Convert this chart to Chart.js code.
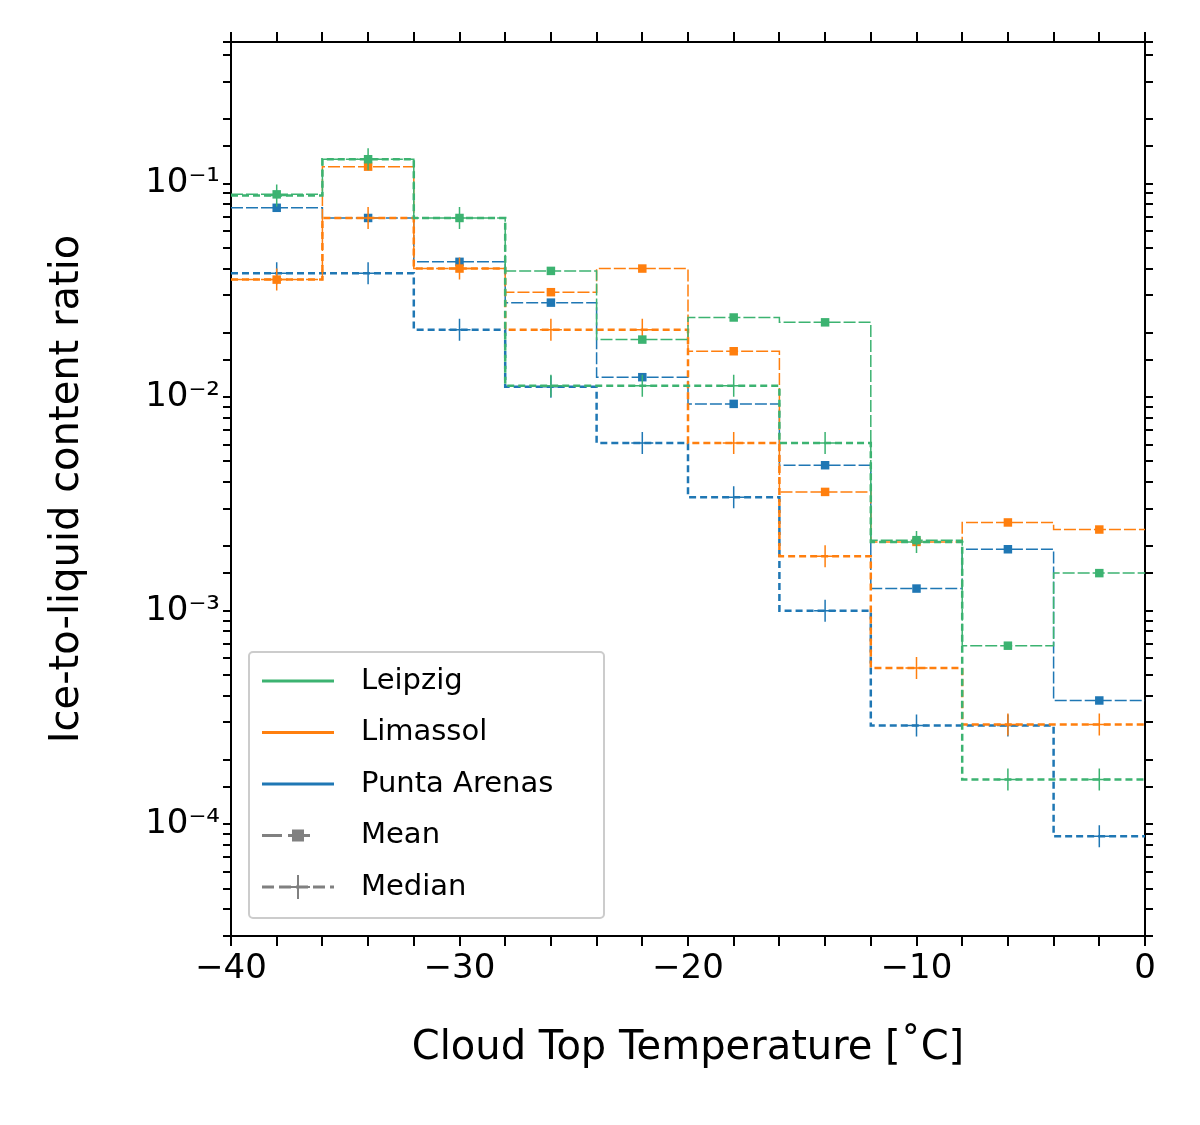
<!DOCTYPE html>
<html><head><meta charset="utf-8">
<script src="https://cdn.jsdelivr.net/npm/chart.js@4/dist/chart.umd.min.js"></script>
<style>body{margin:0;background:#fff}#wrap{width:1200px;height:1125px}</style>
</head><body><div id="wrap"><canvas id="c"></canvas></div>
<script>
// bin edges, -40 .. 0 step 4
var binEdges = [-40, -36, -32, -28, -24, -20, -16, -12, -8, -4];
var binCenters = [-38, -34, -30, -26, -22, -18, -14, -10, -6, -2];
var leipzigMean = [0.089, 0.13, 0.069, 0.039, 0.0186, 0.0236, 0.0224, 0.00214, 0.000686, 0.0015];
var leipzigMedian = [0.088, 0.13, 0.069, 0.0113, 0.0113, 0.0113, 0.0061, 0.0021, 0.000162, 0.000162];
var limassolMean = [0.0355, 0.12, 0.040, 0.031, 0.040, 0.0164, 0.0036, 0.0021, 0.00259, 0.0024];
var limassolMedian = [0.0355, 0.069, 0.040, 0.0207, 0.0207, 0.0061, 0.0018, 0.00054, 0.000293, 0.000293];
var puntaMean = [0.077, 0.069, 0.043, 0.0277, 0.0124, 0.0093, 0.0048, 0.00127, 0.00194, 0.00038];
var puntaMedian = [0.038, 0.038, 0.0207, 0.0112, 0.0061, 0.0034, 0.001, 0.00029, 0.00029, 0.000088];
var yTickLabels = {'-1': '10⁻¹', '-2': '10⁻²', '-3': '10⁻³', '-4': '10⁻⁴'};

var green = '#3cb371', orange = '#ff7f0e', blue = '#1f77b4';

function steps(vals) {
    var pts = binEdges.map(function (x, i) { return {x: x, y: vals[i]}; });
    pts.push({x: 0, y: vals[vals.length - 1]});
    return pts;
}
function marks(vals) {
    return binCenters.map(function (x, i) { return {x: x, y: vals[i]}; });
}
function stepSet(vals, color, median) {
    return {data: steps(vals), borderColor: color, borderWidth: median ? 2.5 : 1.5,
        borderDash: median ? [7, 4] : [12, 3], stepped: 'before', pointRadius: 0, fill: false};
}
function markSet(vals, color, median) {
    return {data: marks(vals), showLine: false, borderColor: color, backgroundColor: color,
        pointStyle: median ? 'cross' : 'rect', pointRadius: median ? 11 : 6, borderWidth: median ? 1.5 : 0};
}

var series = [[leipzigMean, leipzigMedian, green], [limassolMean, limassolMedian, orange], [puntaMean, puntaMedian, blue]];
var datasets = [];
series.forEach(function (s) {
    datasets.push(stepSet(s[1], s[2], true), markSet(s[1], s[2], true));
    datasets.push(stepSet(s[0], s[2], false), markSet(s[0], s[2], false));
});

var font = {family: 'DejaVu Sans', size: 34};

var legendPlugin = {
    id: 'boxLegend',
    afterDraw: function (chart) {
        var c = chart.ctx;
        var x0 = 249, y0 = 652, w = 355, h = 266;
        c.save();
        c.fillStyle = 'rgba(255,255,255,0.8)';
        c.strokeStyle = '#ccc';
        c.lineWidth = 2;
        c.beginPath();
        c.roundRect(x0, y0, w, h, 4);
        c.fill();
        c.stroke();
        var items = [['Leipzig', green, 'solid'], ['Limassol', orange, 'solid'], ['Punta Arenas', blue, 'solid'],
            ['Mean', 'gray', 'mean'], ['Median', 'gray', 'median']];
        c.font = '29px DejaVu Sans';
        c.textBaseline = 'middle';
        items.forEach(function (it, i) {
            var y = 681 + i * 51.5;
            c.strokeStyle = it[1];
            c.fillStyle = it[1];
            c.lineWidth = 3;
            c.beginPath();
            if (it[2] === 'solid') {
                c.moveTo(262, y); c.lineTo(334, y); c.stroke();
            } else {
                c.setLineDash(it[2] === 'mean' ? [20, 6, 8, 6, 8, 40] : [12, 5]);
                c.moveTo(262, y); c.lineTo(334, y); c.stroke();
                c.setLineDash([]);
                if (it[2] === 'mean') {
                    c.fillRect(292, y - 6, 12, 12);
                } else {
                    c.lineWidth = 2;
                    c.beginPath();
                    c.moveTo(298, y - 12); c.lineTo(298, y + 12);
                    c.moveTo(286, y); c.lineTo(310, y);
                    c.stroke();
                }
            }
            c.fillStyle = '#000';
            c.fillText(it[0], 361, y);
        });
        c.restore();
    }
};

function fix(size) { return function (s) { if (s.isHorizontal()) s.height = size; else s.width = size; }; }
function decades(v) {
    var l = Math.log10(v);
    return Math.abs(l - Math.round(l)) < 1e-6 && yTickLabels[Math.round(l)] ? yTickLabels[Math.round(l)] : '';
}
var border = {display: true, color: '#000', width: 2};

new Chart(document.getElementById('c').getContext('2d'), {
    type: 'line',
    data: {datasets: datasets},
    plugins: [legendPlugin],
    options: {
        responsive: true, maintainAspectRatio: false, animation: false, devicePixelRatio: 1,
        layout: {padding: {left: 40, right: 55, top: 42, bottom: 48}},
        plugins: {legend: {display: false}, tooltip: {enabled: false}},
        scales: {
            x: {type: 'linear', position: 'bottom', min: -40, max: 0, border: border,
                ticks: {stepSize: 2, color: '#000', font: font, maxRotation: 0, autoSkip: false,
                    callback: function (v) { return v % 10 === 0 ? (v < 0 ? '−' + (-v) : String(v)) : ''; }},
                grid: {display: true, drawOnChartArea: false, tickLength: 10, color: '#000', lineWidth: 2},
                title: {display: true, text: 'Cloud Top Temperature [˚C]', color: '#000', font: {family: 'DejaVu Sans', size: 40}, padding: {top: 8}},
                afterFit: fix(141)},
            x2: {type: 'linear', position: 'top', min: -40, max: 0, border: border,
                ticks: {stepSize: 2, display: false},
                grid: {drawOnChartArea: false, tickLength: 10, color: '#000', lineWidth: 2},
                afterFit: fix(0)},
            y: {type: 'logarithmic', position: 'left', min: 3e-5, max: 0.46, border: border,
                ticks: {color: '#000', font: font, autoSkip: false, callback: decades},
                grid: {drawOnChartArea: false, tickLength: 8, color: '#000', lineWidth: 2},
                title: {display: true, text: 'Ice-to-liquid content ratio', color: '#000', font: {family: 'DejaVu Sans', size: 40}},
                afterFit: fix(191)},
            y2: {type: 'logarithmic', position: 'right', min: 3e-5, max: 0.46, border: border,
                ticks: {display: false},
                grid: {drawOnChartArea: false, tickLength: 8, color: '#000', lineWidth: 2},
                afterFit: fix(0)}
        }
    }
});
</script></body></html>
